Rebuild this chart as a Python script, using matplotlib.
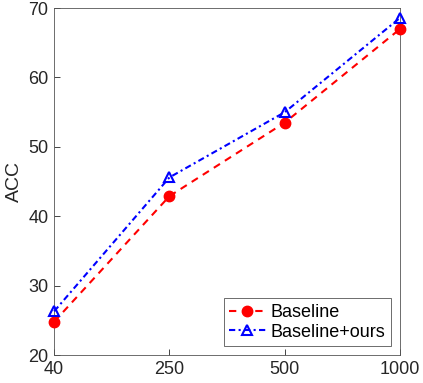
import matplotlib
matplotlib.use("Agg")
import matplotlib.pyplot as plt

categories = ["40", "250", "500", "1000"]
baseline = [24.8, 42.9, 53.5, 67.0]
ours = [26.3, 45.6, 55.0, 68.6]

plt.rcParams['font.family'] = ['Liberation Sans', 'DejaVu Sans']
fig = plt.figure(figsize=(4.23, 3.83), dpi=100)
ax = fig.add_axes([0.128, 0.073, 0.818, 0.906])
x = list(range(len(categories)))
ax.plot(x, baseline, color='red', linestyle=(0, (3.5, 2.8)), linewidth=1.5, marker='o',
        markersize=7.5, markerfacecolor='red', markeredgecolor='red', label='Baseline',
        clip_on=False, zorder=3)
ax.plot(x, ours, color='blue', linestyle=(0, (3, 1.6, 1, 1.6)), linewidth=1.5, marker='^',
        markersize=7, markerfacecolor='none', markeredgecolor='blue', markeredgewidth=1.5,
        label='Baseline+ours', clip_on=False, zorder=3)
ax.set_xlim(0, 3)
ax.set_ylim(20, 70)
ax.set_xticks(x)
ax.set_xticklabels(categories)
ax.set_yticks([20, 30, 40, 50, 60, 70])
ax.tick_params(direction='in', labelsize=13, colors='#262626', length=4, width=0.6, pad=4)
for s in ax.spines.values():
    s.set_color('#555555')
    s.set_linewidth(0.6)
ax.set_ylabel('ACC', fontsize=14, color='#262626', labelpad=4)
leg = ax.legend(loc='lower right', fontsize=13, frameon=True, fancybox=False,
                edgecolor='#555555', borderpad=0.3, handlelength=2.0, handletextpad=0.3,
                labelspacing=0.15, borderaxespad=0.5, framealpha=1)
leg.get_frame().set_linewidth(0.6)
fig.savefig('out.png', dpi=100)
